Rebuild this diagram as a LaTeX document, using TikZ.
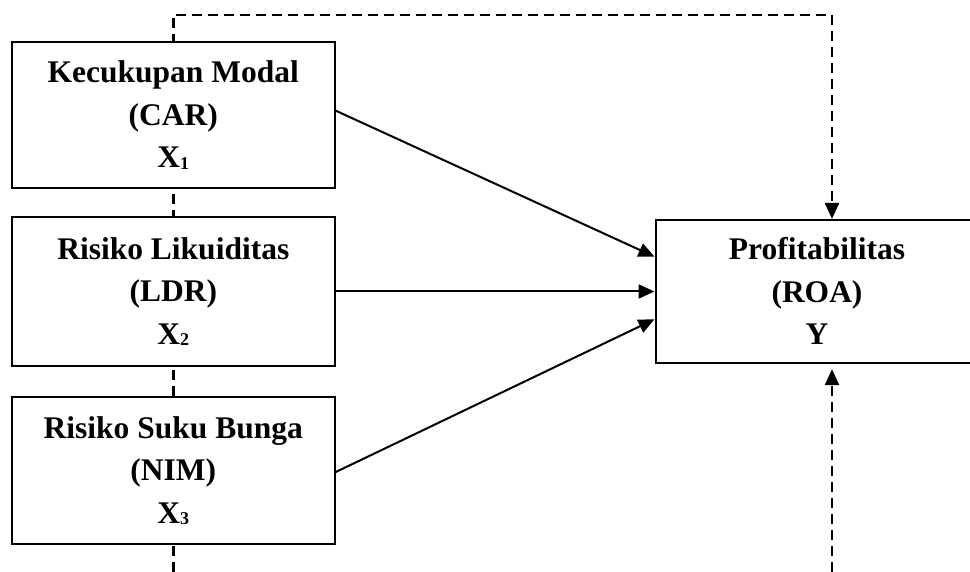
\documentclass[tikz,border=0pt]{standalone}
\usepackage{fontspec}
\setmainfont{Liberation Serif}
\usetikzlibrary{arrows.meta,calc}
\pgfdeclarelayer{bg}
\pgfsetlayers{bg,main}
\newcommand{\subidx}[1]{\raisebox{-1.5pt}{\fontsize{18}{18}\selectfont #1}}
\begin{document}
\begin{tikzpicture}[x=1pt,y=-1pt,
  box/.style={draw, line width=2pt, fill=white, minimum width=323pt, inner sep=0pt,
    align=center, font=\fontsize{31.5}{42.5}\selectfont\bfseries},
  link/.style={line width=2pt, -{Triangle[length=16pt,width=14pt]}},
  dashlink/.style={line width=2.4pt, dash pattern=on 10pt off 6pt},
  dashtip/.style={-{Triangle[length=16pt,width=14pt]}}]
\useasboundingbox (0,0) rectangle (970,572);
\clip (0,0) rectangle (970,572);

\node[box, minimum height=146pt] (b1) at (173.3,115) {Kecukupan Modal\\(CAR)\\X\subidx{1}};
\node[box, minimum height=149pt] (b2) at (173.3,291.5) {Risiko Likuiditas\\(LDR)\\X\subidx{2}};
\node[box, minimum height=147pt] (b3) at (173.3,470.5) {Risiko Suku Bunga\\(NIM)\\X\subidx{3}};
\node[box, minimum height=142.7pt] (y) at (817,291.3) {Profitabilitas\\(ROA)\\Y};

\draw[link] ($(b1.east)+(0,-4.3)$) -- ($(y.west)+(0,-34.6)$);
\draw[link] (b2.east) -- (b2.east -| y.west);
\draw[link] ($(b3.east)+(0,1.5)$) -- ($(y.west)+(0,28)$);

\coordinate (lb) at (173.3,572);
\coordinate (rb) at (832,572);
\coordinate (tl) at (173.3,15);
\coordinate (tr) at (832,15);
\begin{pgfonlayer}{bg}
\draw[dashlink, dashtip] (lb) -- (tl) -- (tr) -- (tr |- y.north);
\end{pgfonlayer}
\draw[dashlink, dashtip] (rb) -- ($(rb |- y.south)+(0,5.5)$);
\end{tikzpicture}
\end{document}
